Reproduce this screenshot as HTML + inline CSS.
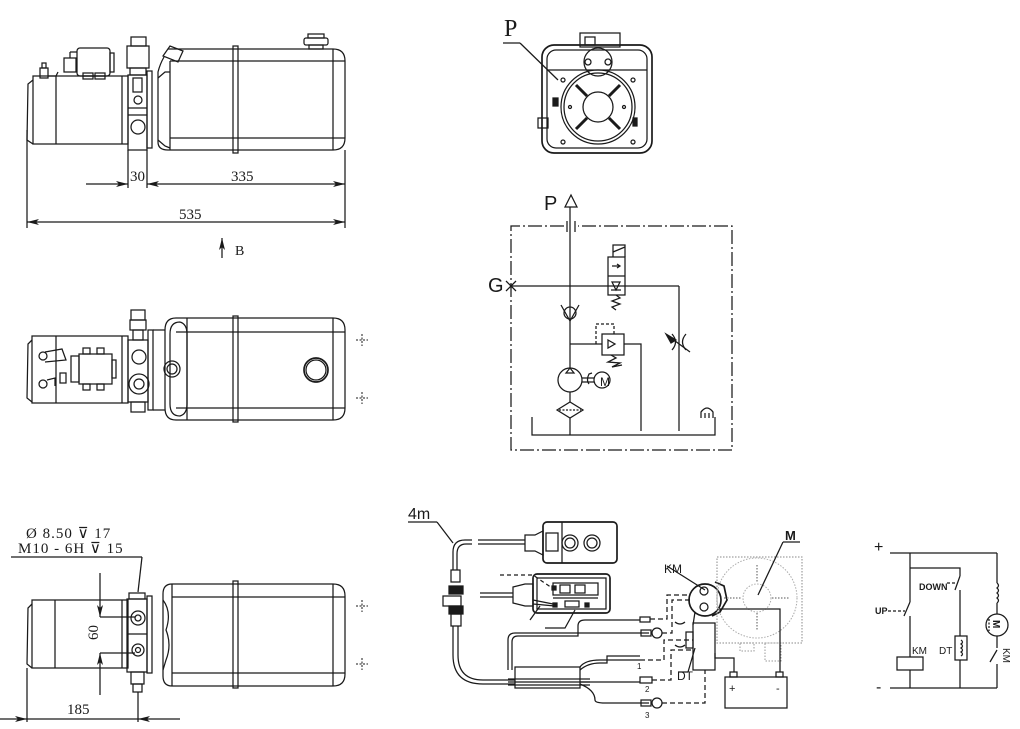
<!DOCTYPE html>
<html><head><meta charset="utf-8"><style>
html,body{margin:0;padding:0;background:#fff;}
svg{display:block;}
.s{fill:none;stroke:#1a1a1a;stroke-width:1.25;}
.t{stroke-width:1.7;}
.serif{font-family:"Liberation Serif",serif;fill:#1a1a1a;}
.sans{font-family:"Liberation Sans",sans-serif;fill:#1a1a1a;}
</style></head><body>
<svg width="1020" height="729" viewBox="0 0 1020 729" xmlns="http://www.w3.org/2000/svg">
<defs>
<marker id="ar" viewBox="0 0 12 6" refX="12" refY="3" markerWidth="12" markerHeight="6" orient="auto" markerUnits="userSpaceOnUse"><path d="M0 0 L12 3 L0 6 L3 3 Z" fill="#1a1a1a"/></marker>
</defs>

<!-- ================= TOP-LEFT SIDE VIEW ================= -->
<g class="s">
  <path d="M33 80 L28 84 L27 140 L33 144"/>
  <rect x="33" y="76" width="95" height="68"/>
  <line x1="56" y1="76" x2="56" y2="144"/>
  <line x1="122" y1="76" x2="122" y2="144"/>
  <rect x="40" y="68" width="8" height="10"/>
  <rect x="42" y="63" width="4" height="5"/>
  <path d="M48 76 L56 76 L58 72"/>
  <rect x="77" y="48" width="33" height="28" rx="3"/>
  <rect x="110" y="53" width="4" height="19"/>
  <path d="M70 52 L77 52 M70 52 V58 M64 58 H76 V72 H64 Z"/>
  <rect x="83" y="73" width="10" height="6"/>
  <rect x="95" y="73" width="10" height="6"/>
  <line x1="83" y1="76" x2="105" y2="76"/>
  <rect x="131" y="37" width="15" height="9"/>
  <rect x="127" y="46" width="22" height="22"/>
  <rect x="130" y="68" width="16" height="7"/>
  <rect x="128" y="75" width="19" height="75"/>
  <rect x="133" y="78" width="9" height="14"/>
  <circle cx="138" cy="100" r="4"/>
  <line x1="128" y1="108" x2="147" y2="108"/>
  <line x1="128" y1="115" x2="147" y2="115"/>
  <circle cx="138" cy="127" r="7"/>
  <rect x="147" y="71" width="5" height="77"/>
  <path d="M163 56 L170 46 L183 51 L178 62 Z"/>
  <path d="M168 49 H333 Q345 49 345 61 V138 Q345 150 333 150 H168 Q158 150 158 142 V72 Q160 64 164 57"/>
  <line x1="170" y1="61" x2="345" y2="61"/>
  <line x1="170" y1="138" x2="345" y2="138"/>
  <line x1="170" y1="61" x2="170" y2="150"/>
  <line x1="333" y1="49" x2="333" y2="150"/>
  <path d="M158 78 L165 72 L170 72"/>
  <path d="M158 140 L165 146 L170 148"/>
  <rect x="233" y="46" width="5" height="107"/>
  <rect x="304" y="38" width="24" height="7" rx="2"/>
  <rect x="308" y="34" width="16" height="4"/>
  <rect x="309" y="45" width="14" height="4"/>
  <line x1="27" y1="130" x2="27" y2="228"/>
  <line x1="128" y1="150" x2="128" y2="188"/>
  <line x1="147" y1="150" x2="147" y2="188"/>
  <line x1="345" y1="150" x2="345" y2="228"/>
  <line x1="86" y1="184" x2="128" y2="184" marker-end="url(#ar)"/>
  <line x1="200" y1="184" x2="147" y2="184" marker-end="url(#ar)"/>
  <line x1="200" y1="184" x2="345" y2="184" marker-end="url(#ar)"/>
  <line x1="190" y1="222" x2="27" y2="222" marker-end="url(#ar)"/>
  <line x1="190" y1="222" x2="345" y2="222" marker-end="url(#ar)"/>
  <line x1="222" y1="258" x2="222" y2="238" marker-end="url(#ar)"/>
</g>
<text class="serif" x="130" y="181" font-size="15">30</text>
<text class="serif" x="231" y="181" font-size="15">335</text>
<text class="serif" x="179" y="219" font-size="15">535</text>
<text class="serif" x="235" y="255" font-size="14">B</text>

<!-- ================= MIDDLE-LEFT TOP VIEW ================= -->
<g class="s">
  <path d="M32 340 L28 344 L27 398 L32 402"/>
  <rect x="32" y="336" width="96" height="67"/>
  <line x1="56" y1="336" x2="56" y2="403"/>
  <line x1="122" y1="336" x2="122" y2="403"/>
  <rect x="79" y="354" width="33" height="30"/>
  <rect x="112" y="360" width="4" height="18"/>
  <rect x="83" y="348" width="7" height="6"/><rect x="97" y="348" width="7" height="6"/>
  <rect x="83" y="384" width="7" height="6"/><rect x="97" y="384" width="7" height="6"/>
  <rect x="71" y="356" width="8" height="26"/>
  <circle cx="43" cy="356" r="4"/><circle cx="43" cy="384" r="4"/>
  <path d="M45 352 L62 349 L66 360 L45 362"/>
  <path d="M47 380 L55 378 L55 386"/>
  <rect x="60" y="373" width="6" height="10"/>
  <rect x="131" y="310" width="14" height="10"/>
  <rect x="130" y="320" width="16" height="10"/>
  <rect x="133" y="330" width="10" height="10"/>
  <rect x="128" y="340" width="20" height="62"/>
  <circle cx="139" cy="357" r="7"/>
  <circle cx="139" cy="384" r="10"/>
  <circle cx="139" cy="384" r="5"/>
  <rect x="131" y="402" width="14" height="10"/>
  <rect x="148" y="330" width="5" height="80"/>
  <path d="M176 318 H333 Q345 318 345 330 V408 Q345 420 333 420 H176 Q165 420 165 408 V330 Q165 318 176 318 Z"/>
  <path d="M180 322 Q170 322 170 334 V404 Q170 416 180 416 Q187 414 187 404 V334 Q187 324 180 322"/>
  <line x1="176" y1="332" x2="345" y2="332"/>
  <line x1="176" y1="408" x2="345" y2="408"/>
  <line x1="187" y1="318" x2="187" y2="420"/>
  <line x1="333" y1="318" x2="333" y2="420"/>
  <line x1="153" y1="330" x2="165" y2="330"/>
  <line x1="153" y1="410" x2="165" y2="410"/>
  <rect x="233" y="316" width="5" height="106"/>
  <circle cx="316" cy="370" r="12" class="t"/>
  <circle cx="316" cy="370" r="10"/>
  <circle cx="172" cy="369" r="8"/>
  <circle cx="172" cy="369" r="5"/>
  <path d="M356 340 H368 M362 334 V346 M356 398 H368 M362 392 V404" stroke-dasharray="2 1.5" stroke-width="1"/>
</g>

<!-- ================= BOTTOM-LEFT VIEW ================= -->
<g class="s">
  <line x1="11" y1="557" x2="142" y2="557"/>
  <line x1="142" y1="557" x2="138" y2="592"/>
  <path d="M32 604 L28 608 L27 664 L32 668"/>
  <rect x="32" y="600" width="96" height="68"/>
  <line x1="55" y1="600" x2="55" y2="668"/>
  <line x1="122" y1="600" x2="122" y2="668"/>
  <rect x="129" y="593" width="16" height="6"/>
  <rect x="127" y="599" width="20" height="73"/>
  <circle cx="138" cy="618" r="7"/><circle cx="138" cy="618" r="3"/>
  <circle cx="138" cy="650" r="6"/><circle cx="138" cy="650" r="2.5"/>
  <line x1="127" y1="634" x2="147" y2="634"/>
  <rect x="131" y="672" width="13" height="12"/>
  <rect x="133" y="684" width="9" height="8"/>
  <rect x="147" y="596" width="5" height="77"/>
  <path d="M172 584 H333 Q345 584 345 596 V674 Q345 686 333 686 H172 Q163 686 163 676 V594 Q163 584 172 584 Z"/>
  <path d="M163 600 Q172 612 166 630 Q172 645 166 660 L163 670"/>
  <line x1="172" y1="597" x2="345" y2="597"/>
  <line x1="172" y1="673" x2="345" y2="673"/>
  <line x1="172" y1="584" x2="172" y2="686"/>
  <line x1="333" y1="584" x2="333" y2="686"/>
  <rect x="233" y="581" width="5" height="107"/>
  <path d="M356 606 H368 M362 600 V612 M356 664 H368 M362 658 V670" stroke-dasharray="2 1.5" stroke-width="1"/>
  <line x1="100" y1="573" x2="100" y2="617" marker-end="url(#ar)"/>
  <line x1="100" y1="695" x2="100" y2="653" marker-end="url(#ar)"/>
  <line x1="100" y1="617" x2="135" y2="617"/>
  <line x1="100" y1="653" x2="135" y2="653"/>
  <line x1="27" y1="668" x2="27" y2="722"/>
  <line x1="138" y1="692" x2="138" y2="722"/>
  <line x1="0" y1="719" x2="27" y2="719" marker-end="url(#ar)"/>
  <line x1="180" y1="719" x2="138" y2="719" marker-end="url(#ar)"/>
  <line x1="27" y1="719" x2="138" y2="719"/>
</g>
<text class="serif" x="26" y="538" font-size="15" letter-spacing="1">Ø 8.50 ⊽ 17</text>
<text class="serif" x="18" y="553" font-size="15" letter-spacing="1">M10 - 6H ⊽ 15</text>
<text class="serif" x="0" y="0" font-size="15" transform="translate(98,640) rotate(-90)">60</text>
<text class="serif" x="67" y="714" font-size="15">185</text>

<!-- ================= FRONT VIEW (P) ================= -->
<g class="s">
  <line x1="503" y1="43" x2="520" y2="43"/>
  <line x1="520" y1="43" x2="558" y2="80"/>
  <rect x="542" y="45" width="110" height="108" rx="12" class="t"/>
  <rect x="547" y="50" width="100" height="98" rx="9"/>
  <line x1="547" y1="70" x2="647" y2="70"/>
  <circle cx="598" cy="107" r="37"/>
  <circle cx="598" cy="107" r="34"/>
  <circle cx="598" cy="107" r="15"/>
  <path d="M609 96 L620 85 M587 96 L576 85 M587 118 L576 129 M609 118 L620 129" stroke-width="3"/>
  <rect x="580" y="33" width="40" height="14"/>
  <rect x="585" y="37" width="10" height="8"/>
  <circle cx="598" cy="62" r="14"/>
  <circle cx="588" cy="62" r="3"/><circle cx="608" cy="62" r="3"/>
  <circle cx="563" cy="80" r="2"/><circle cx="633" cy="80" r="2"/>
  <circle cx="563" cy="142" r="2"/><circle cx="633" cy="142" r="2"/>
  <circle cx="570" cy="107" r="1.5"/><circle cx="624" cy="107" r="1.5"/>
  <rect x="538" y="118" width="10" height="10"/>
  <rect x="553" y="98" width="5" height="8" fill="#1a1a1a"/>
  <rect x="633" y="118" width="4" height="8" fill="#1a1a1a"/>
</g>
<text class="serif" x="504" y="36" font-size="24">P</text>

<!-- ================= HYDRAULIC SCHEMATIC ================= -->
<g class="s">
  <path d="M564 226 H511 V450 H732 V226 H578" stroke-dasharray="14 3 2 3"/>
  <line x1="567" y1="221" x2="567" y2="232"/>
  <line x1="575" y1="221" x2="575" y2="232"/>
  <path d="M565 207 L571 195 L577 207 Z"/>
  <line x1="570" y1="207" x2="570" y2="368"/>
  <path d="M506 281 L516 291 M516 281 L506 291"/>
  <line x1="511" y1="286" x2="679" y2="286"/>
  <line x1="679" y1="286" x2="679" y2="431"/>
  <rect x="608" y="257" width="17" height="38"/>
  <line x1="608" y1="276" x2="625" y2="276"/>
  <path d="M613 257 V245 H625 V257 M613 252 L625 247"/>
  <path d="M612 266 H620 M617 264 L620 266 L617 268"/>
  <path d="M612 282 L616 290 L620 282 Z M611 290 H621"/>
  <path d="M616 295 L620 298 L612 301 L620 304 L612 307 L616 310"/>
  <circle cx="570" cy="313" r="6"/>
  <path d="M561 305 L570 321 L579 305"/>
  <line x1="570" y1="344" x2="602" y2="344"/>
  <rect x="602" y="334" width="22" height="21"/>
  <path d="M596 344 V324 H614 V334" stroke-dasharray="3 2"/>
  <path d="M608 340 L615 344 L608 348 Z"/>
  <path d="M624 344 H641 V431"/>
  <path d="M611 355 L616 358 L608 362 L620 363 L612 367 L622 365" stroke-width="1.3"/>
  <path d="M672 334 Q679 342 672 350 M686 334 Q679 342 686 350"/>
  <path d="M667 335 L690 352"/>
  <path d="M666 334 L676 340 L671 343 Z" fill="#1a1a1a"/>
  <circle cx="570" cy="380" r="12"/>
  <path d="M566 373 L570 368 L574 373 Z"/>
  <line x1="582" y1="378" x2="594" y2="378"/>
  <line x1="582" y1="382" x2="594" y2="382"/>
  <circle cx="602" cy="380" r="8"/>
  <path d="M589 384 Q586 380 589 374 L592 373"/>
  <line x1="570" y1="392" x2="570" y2="402"/>
  <path d="M557 410 L570 402 L583 410 L570 418 Z"/>
  <line x1="559" y1="410" x2="581" y2="410" stroke-dasharray="2 1.5"/>
  <line x1="570" y1="418" x2="570" y2="435"/>
  <path d="M532 417 V435 H715 V417"/>
  <path d="M701 418 V412 Q707 404 713 412 V418 M705 413 V418 M709 413 V418"/>
</g>
<text class="sans" x="600" y="386" font-size="12">M</text>
<text class="sans" x="544" y="210" font-size="20">P</text>
<text class="sans" x="488" y="292" font-size="20">G</text>

<!-- ================= WIRING DIAGRAM ================= -->
<g class="s">
  <line x1="408" y1="522" x2="437" y2="522" stroke-width="1.3"/>
  <line x1="437" y1="522" x2="453" y2="543"/>
  <path d="M525 540 H478 M472 540 H465 Q453 540 453 552 V570"/>
  <path d="M525 544 H478 M472 544 H466 Q457 544 457 554 V570"/>
  <path d="M451 570 H460 V582 H451 Z"/>
  <rect x="449" y="586" width="14" height="8" fill="#1a1a1a"/>
  <rect x="443" y="596" width="18" height="10"/>
  <rect x="449" y="606" width="14" height="8" fill="#1a1a1a"/>
  <rect x="451" y="614" width="10" height="12"/>
  <path d="M453 626 V655 Q453 684 483 684 H515"/>
  <path d="M458 626 V655 Q458 680 483 680 H515"/>
  <rect x="543" y="522" width="74" height="41" rx="4" class="t"/>
  <path d="M562 522 V563"/>
  <rect x="546" y="533" width="12" height="18"/>
  <circle cx="570" cy="543" r="8"/><circle cx="592" cy="543" r="8"/>
  <circle cx="570" cy="543" r="5"/><circle cx="592" cy="543" r="5"/>
  <path d="M525 535 H535 L543 531 V555 L535 551 H525 Z"/>
  <rect x="533" y="574" width="77" height="39" rx="4" class="t"/>
  <rect x="537" y="578" width="69" height="31"/>
  <rect x="553" y="583" width="45" height="12"/>
  <rect x="560" y="585" width="10" height="8"/>
  <rect x="575" y="585" width="10" height="8"/>
  <line x1="553" y1="598" x2="598" y2="598"/>
  <rect x="565" y="601" width="14" height="6"/>
  <rect x="552" y="586" width="4" height="4" fill="#1a1a1a"/>
  <rect x="553" y="603" width="4" height="4" fill="#1a1a1a"/>
  <rect x="585" y="603" width="4" height="4" fill="#1a1a1a"/>
  <path d="M480 593 H513 M480 597 H513"/>
  <path d="M513 587 L525 584 H533 V606 H525 L513 603 Z"/>
  <path d="M500 575 H533 L552 588" stroke-dasharray="4 3"/>
  <path d="M533 600 L553 604 M533 604 L555 606"/>
  <path d="M530 620 L540 606 M545 628 H565 L575 610"/>
  <rect x="515" y="667" width="65" height="21"/>
  <path d="M508 679 H590 M508 682 H590 M508 685 H590" stroke-width="1.2"/>
  <path d="M508 670 V640 Q508 633 515 633 H649"/>
  <path d="M512 670 V642 Q512 636 518 636 H578 V626 Q578 620 585 620 H640"/>
  <path d="M580 667 Q585 660 600 660 H640"/>
  <path d="M580 670 Q588 663 600 663 H607 V656 H640"/>
  <path d="M580 682 H640"/>
  <path d="M580 684 Q595 690 595 700 Q595 703 605 703 H649"/>
  <rect x="640" y="617" width="10" height="5"/>
  <circle cx="657" cy="633" r="5"/><rect x="641" y="630" width="10" height="6"/>
  <rect x="640" y="677" width="12" height="6"/>
  <circle cx="657" cy="703" r="5"/><rect x="641" y="700" width="10" height="6"/>
  <path d="M650 619 H667 V595 H690" stroke-dasharray="5 3"/>
  <path d="M662 633 H672 V600 H690" stroke-dasharray="5 3"/>
  <path d="M652 680 H671 V650 H693" stroke-dasharray="5 3"/>
  <path d="M640 660 H664 V640 H693" stroke-dasharray="5 3"/>
  <path d="M662 703 H705 V670" stroke-dasharray="5 3"/>
  <path d="M675 622 Q680 626 685 622 M675 645 Q680 649 685 645"/>
  <circle cx="705" cy="600" r="16" class="t"/>
  <circle cx="704" cy="591" r="4"/><circle cx="704" cy="607" r="4"/>
  <path d="M715 582 L724 586 L727 600 L720 612 L712 616" class="t"/>
  <path d="M695 612 L693 625"/>
  <rect x="693" y="623" width="22" height="47"/>
  <rect x="686" y="632" width="7" height="16"/>
  <line x1="667" y1="566" x2="705" y2="590"/>
  <line x1="688" y1="672" x2="695" y2="648"/>
  <line x1="678" y1="672" x2="688" y2="672"/>
  <rect x="717" y="557" width="85" height="86" stroke="#888" stroke-dasharray="1.5 1.5" stroke-width="1"/>
  <circle cx="757" cy="598" r="40" stroke="#aaa" stroke-dasharray="1.5 1.5" stroke-width="1"/>
  <circle cx="757" cy="598" r="14" stroke="#aaa" stroke-dasharray="1.5 1.5" stroke-width="1"/>
  <path d="M757 565 V583 M757 613 V631 M724 598 H742 M772 598 H790" stroke="#aaa" stroke-dasharray="1.5 1.5" stroke-width="2"/>
  <rect x="740" y="643" width="14" height="8" stroke="#999" stroke-dasharray="1.5 1.5" stroke-width="1"/>
  <rect x="765" y="643" width="16" height="18" stroke="#999" stroke-dasharray="1.5 1.5" stroke-width="1"/>
  <line x1="783" y1="542" x2="800" y2="542" stroke-width="1.3"/>
  <line x1="783" y1="542" x2="758" y2="595"/>
  <path d="M715 653 V658 H734 V672"/>
  <path d="M720 612 V609 H780 V672"/>
  <rect x="725" y="677" width="62" height="31"/>
  <rect x="730" y="672" width="7" height="5"/>
  <rect x="776" y="672" width="7" height="5"/>
</g>
<text class="sans" x="408" y="519" font-size="16">4m</text>
<text class="sans" x="664" y="573" font-size="12">KM</text>
<text class="sans" x="677" y="680" font-size="12">DT</text>
<text class="sans" x="785" y="540" font-size="13" font-weight="bold">M</text>
<text class="sans" x="729" y="692" font-size="11">+</text>
<text class="sans" x="776" y="692" font-size="11">-</text>
<text class="sans" x="637" y="669" font-size="8">1</text>
<text class="sans" x="645" y="692" font-size="8">2</text>
<text class="sans" x="645" y="718" font-size="8">3</text>

<!-- ================= ELECTRICAL CIRCUIT ================= -->
<g class="s">
  <line x1="890" y1="553" x2="997" y2="553"/>
  <line x1="890" y1="688" x2="997" y2="688"/>
  <path d="M910 553 V602 M910 602 L904 616 M910 616 V657 M910 670 V688"/>
  <rect x="897" y="657" width="26" height="13"/>
  <path d="M888 611 H905" stroke-dasharray="3 2"/>
  <path d="M910 568 H960 V576 M960 576 L955 590 M960 590 V636 M960 660 V688"/>
  <path d="M947 583 H957" stroke-dasharray="3 2"/>
  <rect x="955" y="636" width="12" height="24"/>
  <path d="M961 640 q3 2 0 4 q3 2 0 4 q3 2 0 4 q3 2 0 4"/>
  <path d="M997 553 V583"/>
  <path d="M997 583 q3 2.5 0 5 q3 2.5 0 5 q3 2.5 0 5 q3 2.5 0 5 M997 603 V614"/>
  <circle cx="997" cy="625" r="11"/>
  <path d="M997 636 V648 M997 650 L990 662 M997 664 V688"/>
  <path d="M989 619 V631" stroke-dasharray="2 1.5"/>
</g>
<text class="sans" x="874" y="552" font-size="16">+</text>
<text class="sans" x="876" y="692" font-size="16">-</text>
<text class="sans" x="875" y="614" font-size="9" font-weight="bold">UP</text>
<text class="sans" x="919" y="590" font-size="9" font-weight="bold">DOWN</text>
<text class="sans" x="912" y="654" font-size="10">KM</text>
<text class="sans" x="939" y="654" font-size="10">DT</text>
<text class="sans" x="0" y="0" font-size="10" font-weight="bold" transform="translate(993,620) rotate(90)">M</text>
<text class="sans" x="0" y="0" font-size="10" transform="translate(1003,648) rotate(90)">KM</text>
</svg>
</body></html>
